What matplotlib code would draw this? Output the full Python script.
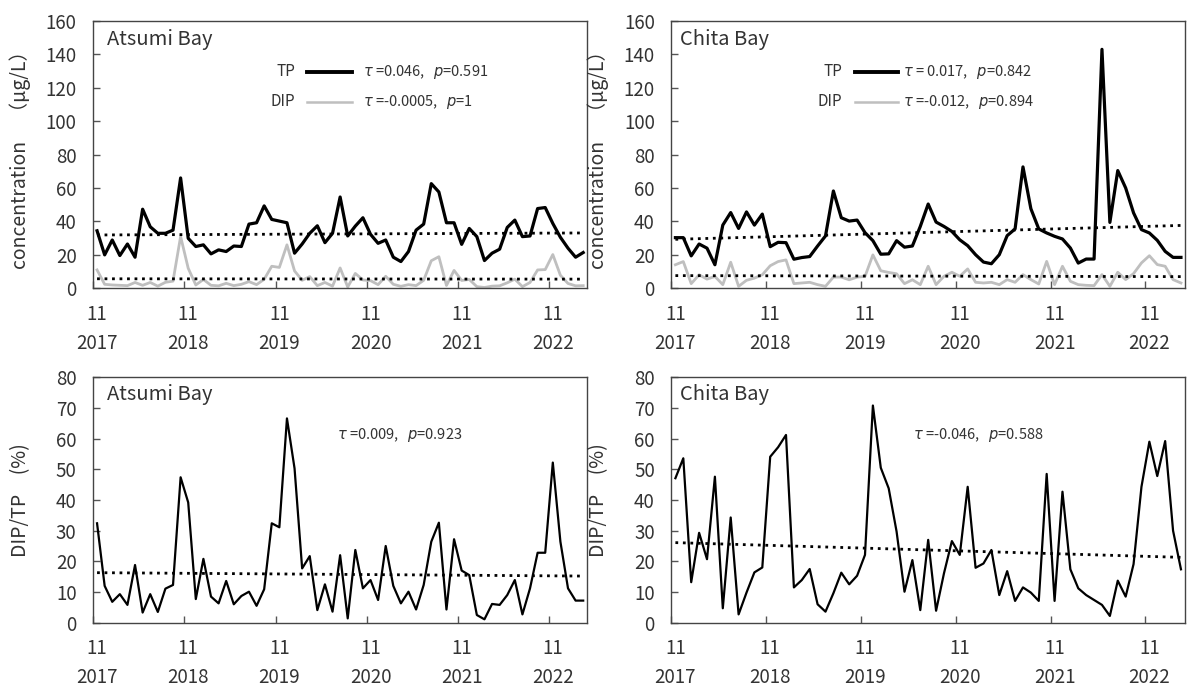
import numpy as np
import matplotlib
matplotlib.use("Agg")
import matplotlib.pyplot as plt

plt.rcParams['font.family'] = ['Noto Sans CJK JP', 'DejaVu Sans']
plt.rcParams['mathtext.fontset'] = 'dejavusans'

# monthly samples, Nov 2017 - Mar 2023
months = np.arange(65)
tick_years = ['2017', '2018', '2019', '2020', '2021', '2022']

atsumi_tp = [34.4, 20, 28.9, 19.6, 26.5, 18.6, 47.3, 36.8, 32.9, 32.9,
             34.8, 66, 29.9, 25, 26, 20.6, 23, 22, 25.3, 25,
             38.4, 39.2, 49.3, 41.2, 40.2, 39.2, 21, 26.5, 32.9, 37.4,
             27.3, 32.9, 54.6, 31.3, 37.2, 42.2, 32.3, 26.9, 28.9, 18.6,
             16, 22, 34.8, 38.4, 62.6, 57.6, 39.2, 39.2, 26.3, 35.8,
             30.9, 16.6, 21, 23.4, 36.4, 40.8, 30.9, 31.3, 47.7, 48.3,
             38.8, 30.5, 24, 18.6, 21.4]
atsumi_dip = [11, 2.4, 2, 1.8, 1.6, 3.5, 1.8, 3.5, 1.3, 3.6,
              4.3, 31, 12, 2, 5.3, 1.8, 1.5, 3, 1.6, 2.4,
              4, 2.2, 5.4, 13.2, 12.5, 26, 10.4, 4.8, 7, 1.6,
              3.5, 1.3, 12.2, 0.8, 8.9, 5, 4.6, 2.2, 7.2, 2.4,
              1.2, 2.2, 1.6, 4.8, 16.5, 18.9, 1.7, 10.7, 4.7, 5.3,
              1.0, 0.5, 1.3, 1.5, 3.3, 5.5, 1.0, 3.5, 11, 11.2,
              20.2, 7.8, 2.9, 1.5, 1.6]
atsumi_ratio = [32.4, 12, 6.8, 9.3, 5.8, 18.8, 3.3, 9.3, 3.5, 11.1,
                12.3, 47.4, 39.2, 7.7, 20.8, 8.5, 6.3, 13.6, 6, 8.7,
                10.1, 5.5, 10.9, 32.4, 31.1, 66.6, 50.3, 17.7, 21.7, 4.1,
                12.5, 3.6, 22, 1.4, 23.7, 11.2, 13.9, 7.4, 25, 12,
                6.3, 10.1, 4.3, 12.3, 26.4, 32.6, 4.3, 27.2, 17, 15.5,
                2.5, 1.1, 6.1, 5.8, 9, 13.9, 2.7, 11.2, 22.8, 22.8,
                52.2, 26.4, 11.2, 7.2, 7.2]

chita_tp = [30.3, 30.3, 19.4, 26.5, 24, 14.1, 37.8, 45.3, 35.8, 45.7,
            37.8, 44.4, 24.9, 27.5, 27.3, 17.4, 18.4, 19, 25.3, 31.3,
            58.2, 42.2, 40.2, 40.8, 33.3, 28.5, 20.4, 20.6, 28.5, 24.6,
            25.3, 37, 50.4, 39.6, 37, 34, 29, 25.5, 20.1, 15.7,
            14.7, 20.1, 31.5, 35.5, 72.6, 47.6, 35.5, 33.1, 31.1, 29.5,
            24.1, 15.1, 17.5, 17.5, 142.9, 39.4, 70.4, 60, 45.1, 35.1,
            33.1, 28.7, 22.1, 18.5, 18.5]
chita_dip = [14.1, 16, 2.8, 8.1, 5.5, 7.1, 2.2, 15.6, 1.2, 4.8,
             6.1, 8.1, 13.5, 16, 17, 2.8, 3.2, 3.6, 2.2, 1.2,
             6.7, 6.7, 5.1, 6.7, 7.1, 20, 10.5, 9.5, 8.7, 2.8,
             5.1, 2.2, 13.2, 2.2, 7.2, 9.6, 7.2, 11.6, 3.6, 3.2,
             3.6, 2.2, 5.2, 3.6, 8.2, 5.2, 2.6, 16.1, 2.2, 13.2,
             4.2, 2.2, 1.8, 1.6, 8.2, 1.2, 9.6, 5.2, 8.8, 15.2,
             19.5, 14.2, 13.2, 5.2, 3.2]
chita_ratio = [47.1, 53.6, 13.2, 29.3, 20.7, 47.6, 4.7, 34.3, 2.7, 9.8,
               16.4, 18, 54.1, 57.2, 61.2, 11.5, 13.9, 17.5, 6, 3.6,
               9.6, 16.3, 12.5, 15.3, 22.1, 70.8, 50.5, 43.8, 29.7, 10.1,
               20.4, 4.1, 27, 3.9, 16.1, 26.6, 22.1, 44.3, 17.9, 19.3,
               23.7, 9, 16.8, 7.1, 11.5, 9.8, 7.1, 48.5, 7.1, 42.7,
               17.4, 11.2, 9, 7.4, 5.8, 2.2, 13.7, 8.5, 19.1, 44.3,
               59, 47.8, 59.2, 30, 17.4]

# trend line values at first and last month
atsumi_tp_trend = [31.9, 33.1]
atsumi_dip_trend = [5.7, 5.5]
chita_tp_trend = [29.3, 37.6]
chita_dip_trend = [7.6, 7.0]
atsumi_ratio_trend = [16.3, 15.2]
chita_ratio_trend = [26.1, 21.3]

TXT = '#333333'
GRAY = '#bfbfbf'
DOT = (0, (1, 1.7))

fig = plt.figure(figsize=(11.88, 6.86), dpi=100)
ax1 = fig.add_axes([0.0785, 0.5797, 0.4156, 0.3901])
ax2 = fig.add_axes([0.5652, 0.5797, 0.4322, 0.3901])
ax3 = fig.add_axes([0.0785, 0.0923, 0.4156, 0.3577])
ax4 = fig.add_axes([0.5652, 0.0923, 0.4322, 0.3577])


def style(ax, ymax, ystep, ylabel, title, labx, tx):
    ax.set_xlim(-0.5, 64.5)
    ax.set_ylim(0, ymax)
    ax.set_yticks(np.arange(0, ymax + 1, ystep))
    ax.set_xticks(np.arange(0, 61, 12) - 0.5)
    ax.set_xticklabels([])
    ax.set_xticks(np.arange(0, 61, 12), ['11\n' + y for y in tick_years], minor=True)
    ax.tick_params(axis='x', which='major', direction='in', length=5, width=1, colors='#555555')
    ax.tick_params(axis='x', which='minor', length=0, pad=11, labelsize=13.5, labelcolor=TXT)
    ax.tick_params(axis='y', direction='in', length=5, width=1, colors='#555555',
                   labelsize=13.5, labelcolor=TXT, pad=12)
    for lbl in ax.get_xticklabels(minor=True):
        lbl.set_linespacing(1.5)
    for s in ax.spines.values():
        s.set_color('#444444')
        s.set_linewidth(1.0)
    ax.set_ylabel(ylabel, fontsize=14, color=TXT)
    ax.yaxis.set_label_coords(labx, 0.5)
    ax.text(tx, 0.93, title, transform=ax.transAxes,
            fontsize=14.5, color=TXT, va='center', ha='left')


ends = [months[0], months[-1]]

# top panels: concentration
for ax, tp, dip, tpt, dipt in [(ax1, atsumi_tp, atsumi_dip, atsumi_tp_trend, atsumi_dip_trend),
                               (ax2, chita_tp, chita_dip, chita_tp_trend, chita_dip_trend)]:
    ax.plot(months, dip, color=GRAY, lw=2.0, zorder=2)
    ax.plot(months, tp, color='black', lw=2.3, zorder=3)
    ax.plot(ends, tpt, color='black', lw=2.0, ls=DOT, zorder=4)
    ax.plot(ends, dipt, color='black', lw=2.0, ls=DOT, zorder=4)

# bottom panels: DIP/TP
for ax, r, rt in [(ax3, atsumi_ratio, atsumi_ratio_trend), (ax4, chita_ratio, chita_ratio_trend)]:
    ax.plot(months, r, color='black', lw=1.6, zorder=3)
    ax.plot(ends, rt, color='black', lw=2.0, ls=DOT, zorder=4)

style(ax1, 160, 20, 'concentration　（μg/L）', 'Atsumi Bay', -0.126, 0.027)
style(ax2, 160, 20, 'concentration　（μg/L）', 'Chita Bay', -0.121, 0.017)
style(ax3, 80, 10, 'DIP/TP　(%)', 'Atsumi Bay', -0.126, 0.027)
style(ax4, 80, 10, 'DIP/TP　(%)', 'Chita Bay', -0.121, 0.017)


def key(ax, xr, x0, x1, xt, y, name, color, lw, txt):
    ax.text(xr, y, name, transform=ax.transAxes, ha='right', va='center',
            fontsize=11, color=TXT)
    ax.plot([x0, x1], [y, y], transform=ax.transAxes, color=color, lw=lw, clip_on=False)
    ax.text(xt, y, txt, transform=ax.transAxes, ha='left', va='center',
            fontsize=10.5, color=TXT)


key(ax1, 0.409, 0.433, 0.524, 0.546, 0.809, 'TP', 'black', 2.8, r'$\tau$ =0.046,   $p$=0.591')
key(ax1, 0.409, 0.433, 0.524, 0.546, 0.697, 'DIP', GRAY, 1.8, r'$\tau$ =-0.0005,   $p$=1')
key(ax2, 0.332, 0.357, 0.441, 0.451, 0.809, 'TP', 'black', 2.8, r'$\tau$ = 0.017,   $p$=0.842')
key(ax2, 0.332, 0.357, 0.441, 0.451, 0.697, 'DIP', GRAY, 1.8, r'$\tau$ =-0.012,   $p$=0.894')

ax3.text(0.493, 0.765, r'$\tau$ =0.009,   $p$=0.923', transform=ax3.transAxes,
         ha='left', va='center', fontsize=10.5, color=TXT)
ax4.text(0.470, 0.765, r'$\tau$ =-0.046,   $p$=0.588', transform=ax4.transAxes,
         ha='left', va='center', fontsize=10.5, color=TXT)

fig.savefig('out.png', dpi=100)
